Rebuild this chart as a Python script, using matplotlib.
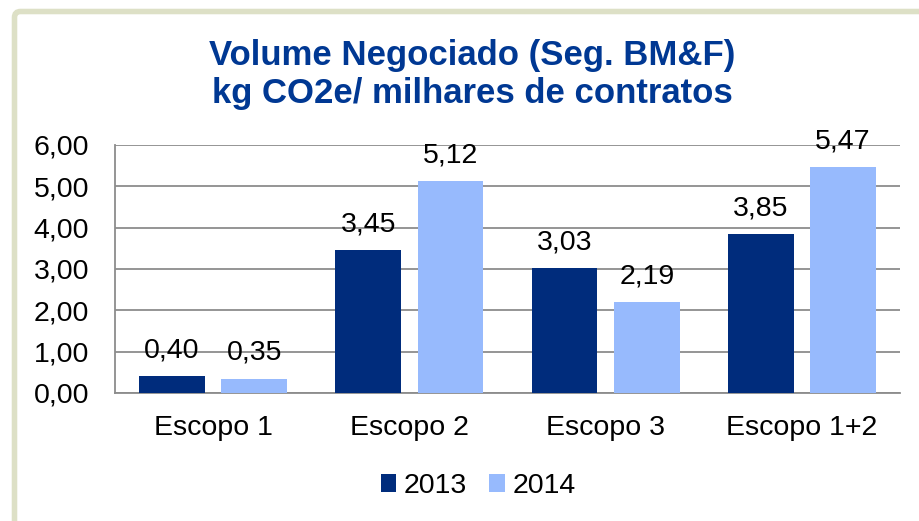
import matplotlib.pyplot as plt
import numpy as np
from matplotlib.patches import FancyBboxPatch

# Data (kg CO2e / milhares de contratos)
categories = ['Escopo 1', 'Escopo 2', 'Escopo 3', 'Escopo 1+2']
years = ['2013', '2014']
vals_2013 = [0.40, 3.45, 3.03, 3.85]
vals_2014 = [0.35, 5.12, 2.19, 5.47]
yticks = [0, 1, 2, 3, 4, 5, 6]

colors = ['#002C7C', '#97BAFD']
title_color = '#003893'

plt.rcParams['font.family'] = ['Liberation Sans', 'DejaVu Sans']

fig = plt.figure(figsize=(9.19, 5.21), dpi=100)
ax = fig.add_axes([115/919, 1 - 393/521, 785/919, 248/521])

x = np.arange(len(categories))
w = 0.335
off = 0.21
b1 = ax.bar(x - off, vals_2013, w, color=colors[0], label=years[0], zorder=3)
b2 = ax.bar(x + off, vals_2014, w, color=colors[1], label=years[1], zorder=3)

for bars, vals in ((b1, vals_2013), (b2, vals_2014)):
    for bar, v in zip(bars, vals):
        ax.annotate(f'{v:.2f}'.replace('.', ','),
                    xy=(bar.get_x() + bar.get_width()/2, v),
                    xytext=(0, 13.5), textcoords='offset points',
                    ha='center', va='baseline', fontsize=20.5, zorder=4)

ax.set_xlim(-0.5, len(categories) - 0.5)
ax.set_ylim(0, 6)
ax.set_yticks(yticks)
ax.set_yticklabels([f'{t:.2f}'.replace('.', ',') for t in yticks], fontsize=20.5)
ax.set_xticks(x)
ax.set_xticklabels(categories, fontsize=20.5)
ax.tick_params(axis='both', length=0)
ax.tick_params(axis='y', pad=18.5)
ax.tick_params(axis='x', pad=16)
ax.yaxis.grid(True, color='#8c8c8c', linewidth=1.3, zorder=0)
ax.set_axisbelow(True)
for s in ['top', 'right']:
    ax.spines[s].set_visible(False)
for s in ['left', 'bottom']:
    ax.spines[s].set_color('#8c8c8c')
    ax.spines[s].set_linewidth(1.3)

fig.text(472/919, 1 - 55/521, 'Volume Negociado (Seg. BM&F)', ha='center', va='center',
         fontsize=25, fontweight='bold', color=title_color)
fig.text(472/919, 1 - 93/521, 'kg CO2e/ milhares de contratos', ha='center', va='center',
         fontsize=25, fontweight='bold', color=title_color)

fig.legend(handles=[b1, b2], labels=years, loc='center', bbox_to_anchor=(478/919, 1 - 486/521),
           ncol=2, frameon=False, fontsize=20.5, handlelength=0.55, handleheight=0.55,
           handletextpad=0.25, columnspacing=0.8)

# outer frame of the chart area
frame = FancyBboxPatch((14.5, -40), 960, 509.5 + 40, boxstyle='round,pad=0,rounding_size=6',
                       transform=None, fill=False, edgecolor='#dde0c6', linewidth=4,
                       clip_on=False)
fig.patches.append(frame)

fig.savefig('out.png', dpi=100)
